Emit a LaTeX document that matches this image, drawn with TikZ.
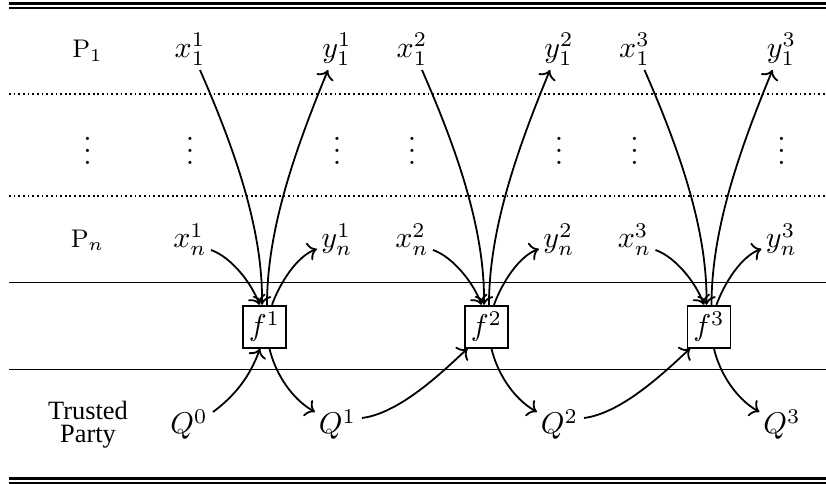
\documentclass[tikz,border=0pt]{standalone}
\usepackage{fontspec}
\newfontfamily\tpfont{Liberation Serif}
\usetikzlibrary{calc,arrows.meta}
\begin{document}
\begin{tikzpicture}[x=0.3333pt,y=-0.3333pt,
  thickrule/.style={line width=1pt},
  thinrule/.style={line width=0.55pt},
  rule/.style={line width=0.5pt},
  dotrule/.style={line width=0.6pt, dash pattern=on 0.6pt off 0.95pt},
  lbl/.style={inner sep=0pt, anchor=base},
  party/.style={lbl, font=\fontsize{8.5}{10}\selectfont},
  fbox/.style={draw, line width=0.6pt, minimum width=14.3pt, minimum height=14pt, inner sep=0pt},
  arr/.style={line width=0.6pt, -{To}},
]
\useasboundingbox (0,0) rectangle (826,484);
% rules
\draw[thickrule] (9,3.2) -- (826,3.2);
\draw[thinrule] (9,8.3) -- (826,8.3);
\draw[dotrule] (9,94) -- (826,94);
\draw[dotrule] (9,196) -- (826,196);
\draw[rule] (9,282.7) -- (826,282.7);
\draw[rule] (9,369.3) -- (826,369.3);
\draw[thickrule] (9,478.8) -- (826,478.8);
\draw[thinrule] (9,483.3) -- (826,483.3);
% row labels
\node[party] (p1) at (87.5,57.7) {$\mathrm{P}_1$};
\node[lbl] (vd0) at (87.5,165) {$\vdots$};
\node[party] (pn) at (87.5,248) {$\mathrm{P}_n$};
\node[align=center, inner sep=0pt, font=\tpfont\fontsize{8.8}{7.8}\selectfont] (tp) at (88,424.5) {Trusted\\Party};
\node[lbl] (Q0) at (189,434) {$Q^0$};
% columns
\foreach \k/\s in {1/0,2/222,3/444.5} {
  \node[lbl] (x1-\k) at (190+\s,57.7) {$x_1^{\k}$};
  \node[lbl] (y1-\k) at (337+\s,57.7) {$y_1^{\k}$};
  \node[lbl] (vx-\k) at (190+\s,165) {$\vdots$};
  \node[lbl] (vy-\k) at (337+\s,165) {$\vdots$};
  \node[lbl] (xn-\k) at (190+\s,248) {$x_n^{\k}$};
  \node[lbl] (yn-\k) at (337+\s,248) {$y_n^{\k}$};
  \node[fbox] (f-\k) at (264.5+\s,326.7) {$f^{\k}$};
  \node[lbl] (Q\k) at (337.5+\s,434) {$Q^{\k}$};
}
\foreach \k in {1,2,3} {
  \draw[arr] ($(x1-\k.base)+(10,12.3)$) .. controls +(35,80) and +(1,-75) .. ($(f-\k.north)+(-2.5,0)$);
  \draw[arr] ($(f-\k.north)+(2.5,0)$) .. controls +(0,-75) and +(-33,80) .. ($(y1-\k.base)+(-9,12.3)$);
  \draw[arr] ($(xn-\k.base)+(21,2)$) .. controls +(20,7) and +(-8,-22) .. ($(f-\k.north)+(-5,0)$);
  \draw[arr] ($(f-\k.north)+(7.5,0)$) .. controls +(8,-22) and +(-20,7) .. ($(yn-\k.base)+(-20,1)$);
  \draw[arr] ($(f-\k.south)+(5,0)$) .. controls +(5,22) and +(-25,-14) .. ($(Q\k.base)+(-22.5,-22)$);
}
\draw[arr] ($(Q0.base)+(24,-22)$) .. controls +(27,-20) and +(-8,22) .. ($(f-1.south)+(-4.5,0)$);
\draw[arr] ($(Q1.base)+(24.5,-16)$) .. controls +(40,-5) and +(-20,18) .. ($(f-2.south west)+(3.5,0)$);
\draw[arr] ($(Q2.base)+(24.5,-16)$) .. controls +(40,-5) and +(-20,18) .. ($(f-3.south west)+(3.5,0)$);
\end{tikzpicture}
\end{document}
